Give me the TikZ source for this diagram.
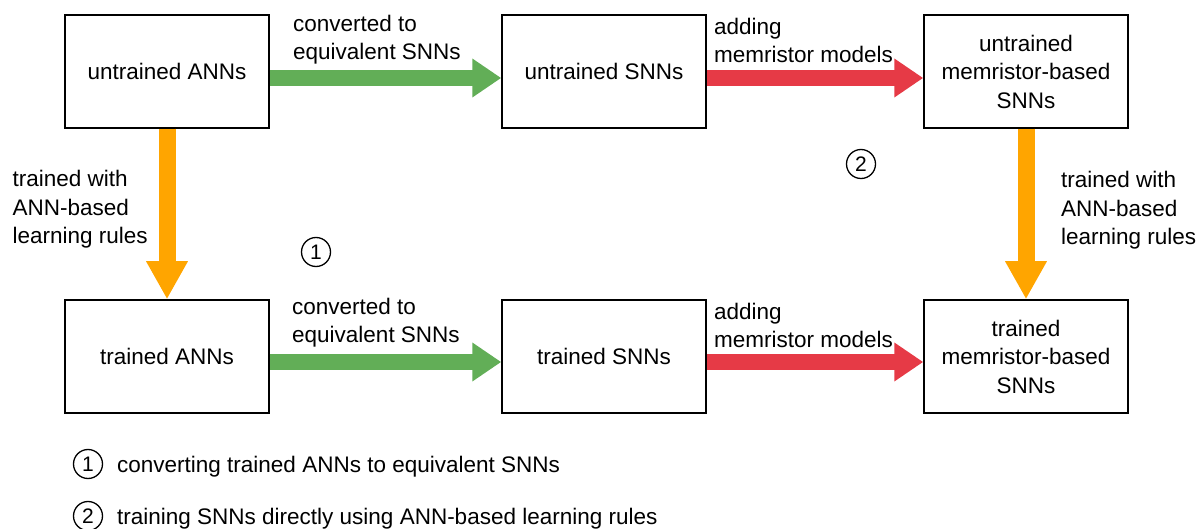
\documentclass[tikz,border=0pt]{standalone}
\usepackage{fontspec}
\setmainfont{Liberation Sans}
\usetikzlibrary{arrows.meta}
\definecolor{convgreen}{HTML}{62AE57}
\definecolor{memred}{HTML}{E63A46}
\definecolor{trainorange}{HTML}{FFA500}

\begin{document}
\begin{tikzpicture}[x=1pt,y=-1pt,
  every node/.style={font=\fontsize{22.5}{28.5}\selectfont},
  netbox/.style={draw,line width=1.5pt,minimum width=204pt,minimum height=113pt,
    align=center,inner sep=0pt},
  % anchored at the baseline of the last line
  steplabel/.style={anchor=base west,align=left,inner sep=0pt},
  fatarrow/.style={line width=16pt,-{Triangle[length=29pt,width=37pt]}},
  downarrow/.style={trainorange,line width=17pt,-{Triangle[length=38pt,width=39pt]}},
  numcircle/.style={circle,draw,line width=1.3pt,minimum size=29pt,inner sep=0pt,
    font=\fontsize{21}{21}\selectfont}]
\useasboundingbox (0,0) rectangle (1200,529);

% network boxes
\node[netbox] (ua) at (167,71.5)  {untrained ANNs};
\node[netbox] (us) at (604,71.5)  {untrained SNNs};
\node[netbox] (um) at (1026,71.5) {untrained\\memristor-based\\SNNs};
\node[netbox] (ta) at (167,356.5) {trained ANNs};
\node[netbox] (ts) at (604,356.5) {trained SNNs};
\node[netbox] (tm) at (1026,356.5){trained\\memristor-based\\SNNs};

% horizontal transitions
\draw[fatarrow,convgreen] ([yshift=-6.5pt]ua.east) -- ([yshift=-6.5pt]us.west);
\draw[fatarrow,memred]    ([yshift=-6.5pt]us.east) -- ([yshift=-6.5pt]um.west);
\draw[fatarrow,convgreen] ([yshift=-5.5pt]ta.east) -- ([yshift=-5.5pt]ts.west);
\draw[fatarrow,memred]    ([yshift=-5.5pt]ts.east) -- ([yshift=-5.5pt]tm.west);

% training steps
\draw[downarrow] (ua.south) -- (ta.north);
\draw[downarrow] (um.south) -- (tm.north);

% transition labels
\node[steplabel] (l1) at (293,60)    {converted to\\equivalent SNNs};
\node[steplabel] (l2) at (714,63)    {adding\\memristor models};
\node[steplabel] (l3) at (292,343)   {converted to\\equivalent SNNs};
\node[steplabel] (l4) at (714,348)   {adding\\memristor models};
\node[steplabel] (l5) at (12.5,244)  {trained with\\ANN-based\\learning rules};
\node[steplabel] (l6) at (1061,245)  {trained with\\ANN-based\\learning rules};

% path markers
\node[numcircle] (m1) at (316,252) {1};
\node[numcircle] (m2) at (861,164) {2};

% legend
\node[numcircle] (k1) at (88,464) {1};
\node[numcircle] (k2) at (88,516) {2};
\node[anchor=base west,inner sep=0pt] (t1) at (117,472) {converting trained ANNs to equivalent SNNs};
\node[anchor=base west,inner sep=0pt] (t2) at (117,524) {training SNNs directly using ANN-based learning rules};
\end{tikzpicture}
\end{document}
